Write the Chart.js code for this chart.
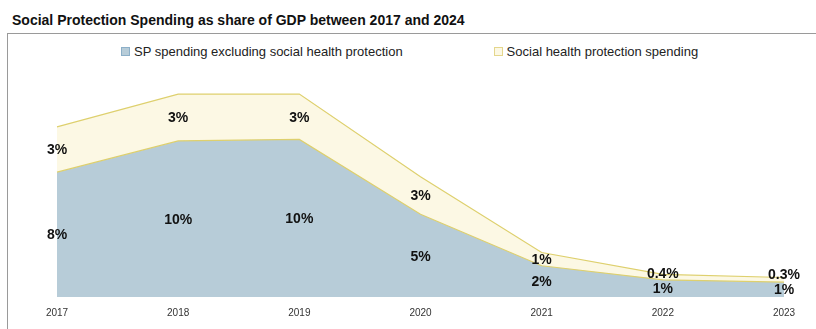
<!DOCTYPE html>
<html>
<head>
<meta charset="utf-8">
<script src="https://cdn.jsdelivr.net/npm/chart.js@4"></script>
<style>
  body { margin: 0; width: 816px; height: 329px; overflow: hidden; background: #fff; font-family: 'Liberation Sans', Arial, sans-serif; }
  #title { position: absolute; left: 12px; top: 12px; font-size: 14px; font-weight: bold; color: #111; white-space: nowrap; }
  #frame { position: absolute; left: 7px; top: 33px; width: 820px; height: 310px; border-top: 1px solid #9a9a9a; border-left: 1px solid #9a9a9a; }
  #legend { position: absolute; left: 121px; top: 44px; font-size: 13px; color: #222; display: flex; align-items: center; }
  .item { display: flex; align-items: center; white-space: nowrap; }
  .sw { width: 7px; height: 7px; margin-right: 4px; border: 1px solid; }
  #wrap { position: absolute; left: 8px; top: 70px; width: 808px; height: 259px; }
</style>
</head>
<body>
<div id="title">Social Protection Spending as share of GDP between 2017 and 2024</div>
<div id="frame"></div>
<div id="legend"></div>
<div id="wrap"><canvas id="chart"></canvas></div>
<script>
// ── Datos ──
const years        = ['2017','2018','2019','2020','2021','2022','2023'];
const spExclHealth = [8.0, 10.0, 10.1, 5.3, 2.0, 1.1, 0.95];
const healthSpend  = [2.9, 3.0, 2.9, 2.4, 0.85, 0.35, 0.3];
const spLabels     = ['8%','10%','10%','5%','2%','1%','1%'];
const healthLabels = ['3%','3%','3%','3%','1%','0.4%','0.3%'];
const seriesNames  = ['SP spending excluding social health protection', 'Social health protection spending'];

const blueFill   = 'rgb(183,204,216)';
const yellowFill = 'rgb(252,248,228)';
const lineColor  = 'rgb(222,208,110)';

// leyenda en HTML
var legend = document.getElementById('legend');
[[seriesNames[0], blueFill, 'rgb(140,175,200)'], [seriesNames[1], yellowFill, 'rgb(228,214,140)']].forEach(function(s, i) {
    var it = document.createElement('div');
    it.className = 'item';
    if (i > 0) it.style.marginLeft = '91px';
    it.innerHTML = '<span class="sw" style="background:' + s[1] + ';border-color:' + s[2] + '"></span>' + s[0];
    legend.appendChild(it);
});

// ── Plugin: etiquetas dentro de cada banda ──
const bandLabels = {
    id: 'bandLabels',
    afterDatasetsDraw(chart) {
        var ctx = chart.ctx, y = chart.scales.y, x = chart.scales.x;
        ctx.save();
        ctx.font = 'bold 14px "Liberation Sans", Arial, sans-serif';
        ctx.fillStyle = '#111';
        ctx.textAlign = 'center';
        ctx.textBaseline = 'middle';
        for (var i = 0; i < years.length; i++) {
            var px = x.getPixelForValue(i);
            var y0 = y.getPixelForValue(0);
            var y1 = y.getPixelForValue(spExclHealth[i]);
            var y2 = y.getPixelForValue(spExclHealth[i] + healthSpend[i]);
            var by = (y0 + y1) / 2;
            var hy = Math.min((y1 + y2) / 2, by - 15);
            ctx.fillText(spLabels[i], px, by + 1);
            ctx.fillText(healthLabels[i], px, hy + 1);
        }
        ctx.restore();
    }
};

new Chart(document.getElementById('chart').getContext('2d'), {
    type: 'line',
    data: {
        labels: years,
        datasets: [
            { label: seriesNames[0], data: spExclHealth, fill: 'origin', backgroundColor: blueFill,
              borderColor: lineColor, borderWidth: 1.2, pointRadius: 0, tension: 0 },
            { label: seriesNames[1], data: healthSpend, fill: '-1', backgroundColor: yellowFill,
              borderColor: lineColor, borderWidth: 1.2, pointRadius: 0, tension: 0 }
        ]
    },
    options: {
        responsive: true,
        maintainAspectRatio: false,
        animation: false,
        layout: { padding: { left: 49, right: 32, top: 8.5, bottom: 0 } },
        plugins: { legend: { display: false }, tooltip: { enabled: false } },
        scales: {
            x: { offset: false, grid: { display: false, drawTicks: false }, border: { display: false },
                 ticks: { padding: 10, color: '#333', font: { family: 'Liberation Sans', size: 10 }, maxRotation: 0 } },
            y: { display: false, stacked: true, min: 0, max: 14 }
        }
    },
    plugins: [bandLabels]
});
</script>
</body>
</html>
